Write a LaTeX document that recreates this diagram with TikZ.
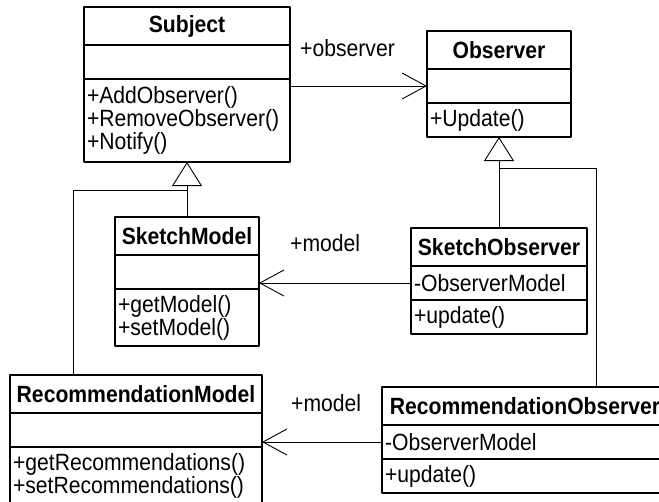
\documentclass[tikz,border=0pt]{standalone}
\usepackage{fontspec}
\setmainfont[FakeStretch=0.9]{Liberation Sans}
\usepackage{tikz}
\usetikzlibrary{positioning}
\usetikzlibrary{arrows.meta}
\usetikzlibrary{calc}

\tikzset{
  box/.style={draw,line width=1.2pt,outer sep=0pt,inner xsep=3pt,inner ysep=0pt},
  boxtitle/.style={box,anchor=north west,minimum height=38pt,font=\fontsize{23.5}{23}\selectfont\bfseries},
  boxpart/.style={box,minimum height=34pt,align=left},
  lbl/.style={inner sep=0pt,anchor=west},
  assoc/.style={-{Straight Barb[length=24pt,width=26pt]},line width=0.9pt},
  inherit/.style={-{Triangle[open,length=24pt,width=30pt]},line width=0.9pt},
  link/.style={line width=0.9pt}
}

\begin{document}
\begin{tikzpicture}[x=1pt,y=-1pt,line join=round,font=\fontsize{23.5}{23}\selectfont]
\useasboundingbox (0,0) rectangle (659,501);
\clip (0,0) rectangle (659,501);
% classes
\node[boxtitle,minimum width=206pt] (subjt) at (84,7) {Subject};
\node[boxpart,text width=200pt,below=0pt of subjt] (subja) {};
\node[boxpart,text width=200pt,minimum height=83pt,below=0pt of subja] (subjm) {+AddObserver()\\+RemoveObserver()\\+Notify()};
\node[boxtitle,minimum width=144pt] (obst) at (427,31) {Observer};
\node[boxpart,text width=138pt,below=0pt of obst] (obsa) {};
\node[boxpart,text width=138pt,below=0pt of obsa] (obsm) {+Update()};
\node[boxtitle,minimum width=144pt] (smodt) at (115,217) {SketchModel};
\node[boxpart,text width=138pt,below=0pt of smodt] (smoda) {};
\node[boxpart,text width=138pt,minimum height=57pt,below=0pt of smoda] (smodm) {+getModel()\\+setModel()};
\node[boxtitle,minimum width=176pt] (sobst) at (411,228) {SketchObserver};
\node[boxpart,text width=170pt,below=0pt of sobst] (sobsa) {-ObserverModel};
\node[boxpart,text width=170pt,below=0pt of sobsa] (sobsm) {+update()};
\node[boxtitle,minimum width=252pt] (rmodt) at (10,375) {RecommendationModel};
\node[boxpart,text width=246pt,below=0pt of rmodt] (rmoda) {};
\node[boxpart,text width=246pt,minimum height=57pt,below=0pt of rmoda] (rmodm) {+getRecommendations()\\+setRecommendations()};
\node[boxtitle,minimum width=286pt] (robst) at (382,387) {RecommendationObserver};
\node[boxpart,text width=280pt,below=0pt of robst] (robsa) {-ObserverModel};
\node[boxpart,text width=280pt,below=0pt of robsa] (robsm) {+update()};
% associations
\draw[assoc] (subjm.east |- obsa.west) -- (obsa.west);
\node[lbl] (obslbl) at (300,48) {+observer};
\draw[assoc] (sobsa.west) -- (smoda.east |- sobsa.west);
\node[lbl] (smlbl) at (290,243) {+model};
\draw[assoc] (robsa.west) -- (rmoda.east |- robsa.west);
\node[lbl] (rmlbl) at (291,403) {+model};
% generalisations
\draw[inherit] (smodt.north) -- (subjm.south);
\coordinate (jm) at ($(subjm.south)+(0,28)$);
\draw[link] (jm) -| ($(rmodt.north west)+(63,0)$);
\draw[inherit] (sobst.north) -- (obsm.south);
\coordinate (jo) at ($(obsm.south)+(0,31)$);
\draw[link] (jo) -| ($(robst.north west)+(214,0)$);
\end{tikzpicture}
\end{document}
